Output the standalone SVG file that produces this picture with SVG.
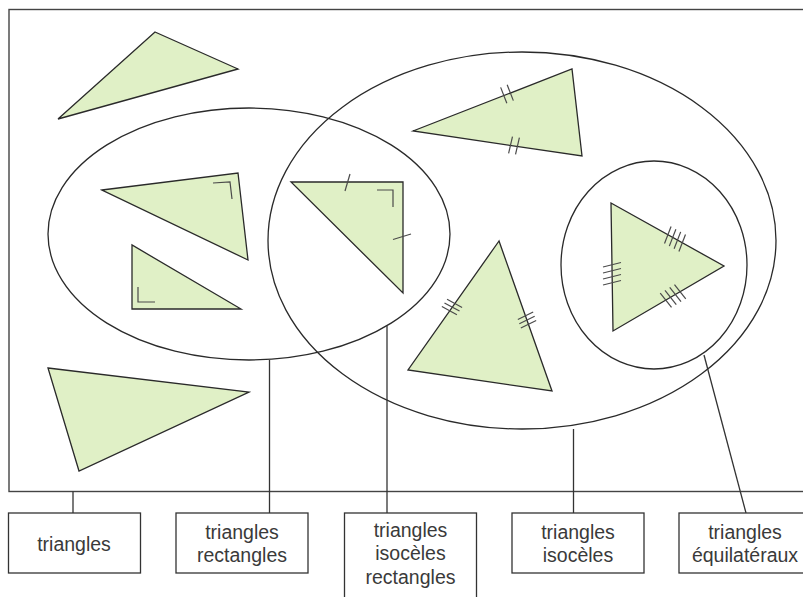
<svg xmlns="http://www.w3.org/2000/svg" width="803" height="597" viewBox="0 0 803 597">
<style>
.tri{fill:#e0f0c6;stroke:#2a2a2a;stroke-width:1.3;stroke-linejoin:miter}
.set{fill:none;stroke:#2a2a2a;stroke-width:1.3}
.tick{fill:none;stroke:#4a4a4a;stroke-width:1.2}
.box{fill:#fff;stroke:#333;stroke-width:1.3}
.con{fill:none;stroke:#333;stroke-width:1.3}
.lbl{font-family:"Liberation Sans",Arial,sans-serif;font-size:19.5px;fill:#3a3a3a;text-anchor:middle}
</style>
<rect x="0" y="0" width="803" height="597" fill="#fff"/>
<g id="frame"><rect x="9" y="9.5" width="805" height="482" fill="none" stroke="#444" stroke-width="1.4"/></g>
<g id="sets">
<ellipse id="set-rectangles" class="set" cx="249" cy="234" rx="201" ry="126"/>
<ellipse id="set-isoceles" class="set" cx="522" cy="240.5" rx="254" ry="188.5"/>
<ellipse id="set-equilateraux" class="set" cx="654" cy="265" rx="93" ry="104"/>
</g>
<g id="triangles">
<g id="t1"><polygon class="tri" points="155,32 238,69 58,119"/></g>
<g id="t2"><polygon class="tri" points="102,190 238,173 248,260"/>
<polyline class="tick" points="213,183 230,182 232,199"/></g>
<g id="t3"><polygon class="tri" points="132,245 132,309 241,309"/>
<polyline class="tick" points="138,287 138,302 155,302"/></g>
<g id="t4"><polygon class="tri" points="48,368 249,392 79,471"/></g>
<g id="t5"><polygon class="tri" points="291,182 403,182 403,293"/>
<polyline class="tick" points="377,190 393,190 393,207"/>
<line class="tick" x1="345" y1="191" x2="350" y2="174"/>
<line class="tick" x1="393" y1="239.5" x2="411" y2="234"/></g>
<g id="t6"><polygon class="tri" points="413,131 572,69 582,156"/>
<g transform="translate(507,94) rotate(-21.3)"><line class="tick" x1="-3.5" y1="-8.5" x2="-3.5" y2="8.5"/><line class="tick" x1="3.5" y1="-8.5" x2="3.5" y2="8.5"/></g>
<g transform="translate(514,145.5) rotate(8.4)"><line class="tick" x1="-4.2" y1="8.5" x2="-2.8" y2="-8.5"/><line class="tick" x1="2.8" y1="8.5" x2="4.2" y2="-8.5"/></g></g>
<g id="t7"><polygon class="tri" points="499,241 408,370 552,391"/>
<g transform="translate(452,307) rotate(-54.8)"><line class="tick" x1="-5.5" y1="-8.5" x2="-3.5" y2="8.5"/><line class="tick" x1="-1" y1="-8.5" x2="1" y2="8.5"/><line class="tick" x1="3.5" y1="-8.5" x2="5.5" y2="8.5"/></g>
<g transform="translate(527,320) rotate(70.5)"><line class="tick" x1="-5.5" y1="-8.5" x2="-3.5" y2="8.5"/><line class="tick" x1="-1" y1="-8.5" x2="1" y2="8.5"/><line class="tick" x1="3.5" y1="-8.5" x2="5.5" y2="8.5"/></g></g>
<g id="t8"><polygon class="tri" points="611,203 724,266 613,331"/>
<g transform="translate(675,239) rotate(29.1)"><line class="tick" x1="-9.5" y1="-9" x2="-7" y2="9"/><line class="tick" x1="-4" y1="-9" x2="-1.5" y2="9"/><line class="tick" x1="1.5" y1="-9" x2="4" y2="9"/><line class="tick" x1="7" y1="-9" x2="9.5" y2="9"/></g>
<g transform="translate(673,296) rotate(-30.4)"><line class="tick" x1="-9.5" y1="-9" x2="-7" y2="9"/><line class="tick" x1="-4" y1="-9" x2="-1.5" y2="9"/><line class="tick" x1="1.5" y1="-9" x2="4" y2="9"/><line class="tick" x1="7" y1="-9" x2="9.5" y2="9"/></g>
<line class="tick" x1="603" y1="267" x2="621" y2="262.5"/>
<line class="tick" x1="603" y1="273" x2="621" y2="268.5"/>
<line class="tick" x1="603" y1="279" x2="621" y2="274.5"/>
<line class="tick" x1="603" y1="285" x2="621" y2="280.5"/></g>
</g>
<g id="connectors">
<line class="con" x1="73" y1="491.5" x2="73" y2="513"/>
<line class="con" x1="269.5" y1="360" x2="269.5" y2="513"/>
<line class="con" x1="387" y1="326" x2="387" y2="513"/>
<line class="con" x1="573.5" y1="429" x2="573.5" y2="513"/>
<line class="con" x1="704" y1="355" x2="746" y2="513"/>
</g>
<g id="label-triangles"><rect class="box" x="8.5" y="513" width="132" height="60"/>
<text class="lbl" x="74" y="551">triangles</text></g>
<g id="label-rectangles"><rect class="box" x="176" y="513" width="132" height="60"/>
<text class="lbl" x="242" y="539">triangles</text><text class="lbl" x="242" y="562">rectangles</text></g>
<g id="label-isoceles-rectangles"><rect class="box" x="344.5" y="513" width="132" height="100"/>
<text class="lbl" x="410.5" y="537">triangles</text><text class="lbl" x="410.5" y="560">isocèles</text><text class="lbl" x="410.5" y="584">rectangles</text></g>
<g id="label-isoceles"><rect class="box" x="512" y="513" width="132" height="60"/>
<text class="lbl" x="578" y="539">triangles</text><text class="lbl" x="578" y="562">isocèles</text></g>
<g id="label-equilateraux"><rect class="box" x="679" y="513" width="132" height="60"/>
<text class="lbl" x="745" y="539">triangles</text><text class="lbl" x="745" y="562">équilatéraux</text></g>
</svg>
